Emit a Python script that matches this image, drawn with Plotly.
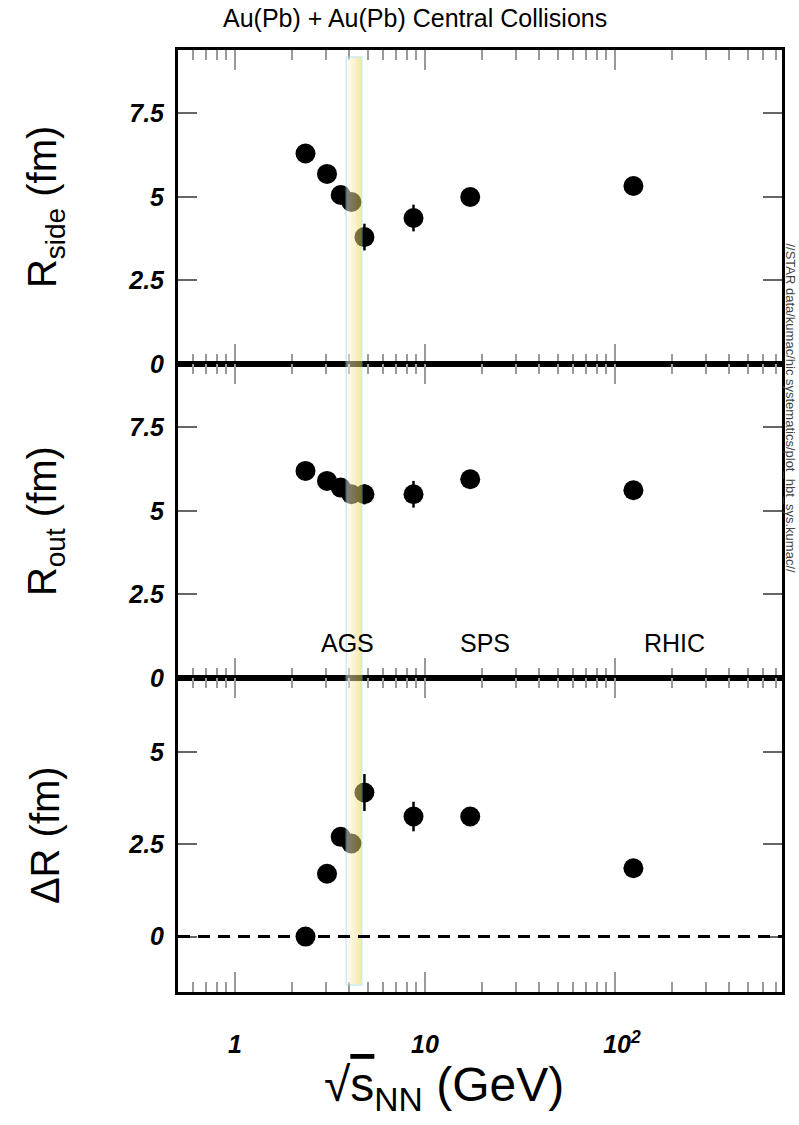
import numpy as np
import plotly.graph_objects as go

# ---- data -------------------------------------------------------------
# collision energy sqrt(s_NN) in GeV for each measurement
energy = [2.35, 3.05, 3.6, 4.1, 4.8, 8.7, 17.3, 125.0]

# HBT radii (fm) and their uncertainties
r_side = [6.30, 5.69, 5.06, 4.85, 3.80, 4.37, 5.00, 5.33]
r_side_err = [0.15, 0.15, 0.15, 0.15, 0.40, 0.40, 0.15, 0.15]

r_out = [6.20, 5.90, 5.70, 5.50, 5.50, 5.50, 5.95, 5.62]
r_out_err = [0.15, 0.15, 0.15, 0.15, 0.30, 0.40, 0.15, 0.15]

delta_r = [0.00, 1.70, 2.70, 2.52, 3.90, 3.25, 3.25, 1.85]
delta_r_err = [0.20, 0.20, 0.20, 0.20, 0.50, 0.40, 0.20, 0.20]

# highlighted energy window
band_energy = [3.85, 4.65]

# accelerator labels
facility_names = ["AGS", "SPS", "RHIC"]
facility_energy = [3.93, 20.7, 205.0]
facility_level = [1.05, 1.05, 1.05]

# axis ticks
x_tick_vals = [1, 10, 100]
x_tick_text = ["1", "10", "\u00a0\u00a010<sup>2</sup>"]
x_minor_vals = [m * 10.0 ** k for k in range(-1, 3) for m in range(2, 10)]
y_tick_vals_r = [0, 2.5, 5, 7.5]
y_tick_text_r = ["0", "2.5", "5", "7.5"]
y_tick_vals_d = [0, 2.5, 5]
y_tick_text_d = ["0", "2.5", "5"]

# ---- styling ----------------------------------------------------------
X_RANGE = [-0.30, 2.879]
TICK_FONT = dict(family="Liberation Sans, Arial, sans-serif", size=25,
                 color="black", weight="bold", style="italic")
TEXT_FONT = "Liberation Sans, Arial, Helvetica, sans-serif"

fig = go.Figure()

panels = [
    ("x", "y", r_side, r_side_err),
    ("x2", "y2", r_out, r_out_err),
    ("x3", "y3", delta_r, delta_r_err),
]
for xa, ya, vals, errs in panels:
    fig.add_trace(go.Scatter(
        x=energy, y=vals, xaxis=xa, yaxis=ya, mode="markers",
        marker=dict(size=20, color="black", line=dict(width=0)),
        error_y=dict(type="data", array=errs, visible=True,
                     color="black", thickness=2.5, width=0),
        showlegend=False, hoverinfo="skip",
    ))

# translucent energy band, laid over all three panels
band_lo, band_hi = 0.0075, 0.9926
fig.add_trace(go.Scatter(
    x=[band_energy[0], band_energy[1], band_energy[1], band_energy[0], band_energy[0]],
    y=[band_lo, band_lo, band_hi, band_hi, band_lo],
    xaxis="x4", yaxis="y4", mode="lines", fill="toself",
    line=dict(color="#9fd6e6", width=1.5),
    fillgradient=dict(type="horizontal",
                      colorscale=[[0, "rgba(255,255,255,1)"], [1, "#e8d24a"]]),
    opacity=0.5, showlegend=False, hoverinfo="skip",
))

x_common = dict(
    type="log", range=X_RANGE, domain=[0, 1],
    showline=True, linewidth=3, linecolor="black", mirror="ticks",
    ticks="inside", ticklen=20, tickwidth=1.5, tickcolor="#9a9a9a",
    tickvals=x_tick_vals, showgrid=False, zeroline=False,
    minor=dict(tickmode="array", tickvals=x_minor_vals, ticks="inside",
               ticklen=10, tickwidth=1.5, tickcolor="#9a9a9a", showgrid=False),
)
y_common = dict(
    showline=True, linewidth=3, linecolor="black", mirror="ticks",
    ticks="inside", ticklen=19, tickwidth=1.5, tickcolor="#666666",
    showgrid=False, zeroline=False, tickfont=TICK_FONT,
    ticklabelstandoff=6,
)

fig.update_layout(
    width=799, height=1125,
    margin=dict(l=178, r=17, t=50, b=133),
    paper_bgcolor="white", plot_bgcolor="rgba(0,0,0,0)",
    showlegend=False,
    xaxis=dict(x_common, anchor="y", showticklabels=False),
    xaxis2=dict(x_common, anchor="y2", showticklabels=False, matches="x"),
    xaxis3=dict(x_common, anchor="y3", showticklabels=True, matches="x",
                ticktext=x_tick_text, tickfont=TICK_FONT, ticklabelstandoff=28),
    xaxis4=dict(type="log", range=X_RANGE, domain=[0, 1], anchor="y4",
                visible=False, fixedrange=True),
    yaxis=dict(y_common, domain=[2 / 3, 1], range=[0, 9.4], anchor="x",
               tickvals=y_tick_vals_r, ticktext=y_tick_text_r),
    yaxis2=dict(y_common, domain=[1 / 3, 2 / 3], range=[0, 9.4], anchor="x2",
                tickvals=y_tick_vals_r, ticktext=y_tick_text_r),
    yaxis3=dict(y_common, domain=[0, 1 / 3], range=[-1.5, 7.0], anchor="x3",
                tickvals=y_tick_vals_d, ticktext=y_tick_text_d),
    yaxis4=dict(range=[0, 1], domain=[0, 1], anchor="x4",
                visible=False, fixedrange=True),
)

# dashed reference line at zero in the lower panel
fig.add_shape(type="line", xref="x3 domain", x0=0, x1=1, yref="y3", y0=0, y1=0,
              line=dict(color="black", width=3, dash="12px,8px"))

# accelerator labels in the middle panel
for name, xe, yv in zip(facility_names, facility_energy, facility_level):
    fig.add_annotation(x=np.log10(xe), y=yv, xref="x2", yref="y2", text=name,
                       showarrow=False, font=dict(family=TEXT_FONT, size=25, color="black"))

# panel titles
y_titles = [
    ("R<sub>side</sub> (fm)", 5 / 6),
    ("R<sub>out</sub> (fm)", 1 / 2),
    ("ΔR (fm)", 1 / 6),
]
for txt, yp in y_titles:
    fig.add_annotation(x=-0.22, y=yp, xref="paper", yref="paper", text=txt,
                       textangle=-90, showarrow=False, xanchor="center", yanchor="middle",
                       font=dict(family=TEXT_FONT, size=40, color="black"))

# x-axis title
fig.add_annotation(x=0.44, y=-0.102, xref="paper", yref="paper",
                   text="√<span style='text-decoration:overline'>s</span><sub>NN</sub> (GeV)",
                   showarrow=False, xanchor="center", yanchor="middle",
                   font=dict(family=TEXT_FONT, size=48, color="black"))

# figure title
fig.add_annotation(x=0.392, y=1.034, xref="paper", yref="paper",
                   text="Au(Pb) + Au(Pb) Central Collisions",
                   showarrow=False, xanchor="center", yanchor="middle",
                   font=dict(family=TEXT_FONT, size=25, color="black"))

# file path stamp along the right edge
fig.add_annotation(x=1.0125, y=0.62, xref="paper", yref="paper",
                   text="//STAR data/kumac/hic systematics/plot_hbt_sys.kumac//",
                   textangle=90, showarrow=False, xanchor="center", yanchor="middle",
                   borderpad=0,
                   font=dict(family=TEXT_FONT, size=13, color="#444444"))

fig.write_html("out.html")
